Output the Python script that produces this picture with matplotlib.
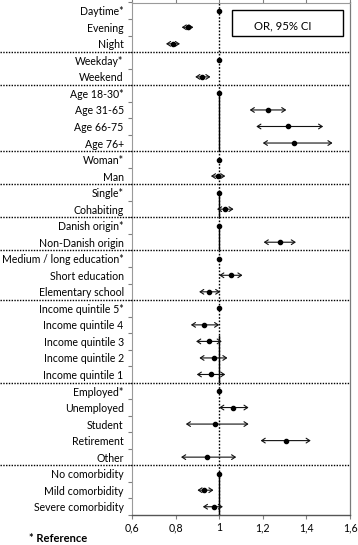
import numpy as np
import matplotlib
matplotlib.use("Agg")
import matplotlib.pyplot as plt
from matplotlib.transforms import blended_transform_factory
from matplotlib.patches import Rectangle

labels = ["Daytime*", "Evening", "Night",
          "Weekday*", "Weekend",
          "Age 18-30*", "Age 31-65", "Age 66-75", "Age 76+",
          "Woman*", "Man",
          "Single*", "Cohabiting",
          "Danish origin*", "Non-Danish origin",
          "Medium / long education*", "Short education", "Elementary school",
          "Income quintile 5*", "Income quintile 4", "Income quintile 3",
          "Income quintile 2", "Income quintile 1",
          "Employed*", "Unemployed", "Student", "Retirement", "Other",
          "No comorbidity", "Mild comorbidity", "Severe comorbidity"]
odds = [1.0, 0.855, 0.79,
        1.0, 0.923,
        1.0, 1.224, 1.314, 1.345,
        1.0, 0.994,
        1.0, 1.025,
        1.0, 1.277,
        1.0, 1.055, 0.954,
        1.0, 0.932, 0.954, 0.974, 0.963,
        1.0, 1.063, 0.98, 1.306, 0.943,
        1.0, 0.932, 0.974]
ci_low = [np.nan, 0.828, 0.756,
          np.nan, 0.89,
          np.nan, 1.14, 1.17, 1.20,
          np.nan, 0.962,
          np.nan, 0.99,
          np.nan, 1.204,
          np.nan, 1.0, 0.908,
          np.nan, 0.87, 0.894, 0.909, 0.897,
          np.nan, 1.0, 0.847, 1.19, 0.825,
          np.nan, 0.90, 0.925]
ci_high = [np.nan, 0.882, 0.82,
           np.nan, 0.96,
           np.nan, 1.308, 1.477, 1.52,
           np.nan, 1.028,
           np.nan, 1.066,
           np.nan, 1.352,
           np.nan, 1.107, 1.005,
           np.nan, 1.0, 1.012, 1.038, 1.028,
           np.nan, 1.135, 1.135, 1.42, 1.078,
           np.nan, 0.974, 1.017]
group_sizes = [3, 2, 4, 2, 2, 2, 3, 5, 5, 3]
x_ticks = [0.6, 0.8, 1.0, 1.2, 1.4, 1.6]
x_tick_labels = ["0,6", "0,8", "1", "1,2", "1,4", "1,6"]

W, H = 358, 545
fig = plt.figure(figsize=(W / 100, H / 100), dpi=100)
ax_left, ax_right = 132, 350
ax_top, ax_bot = 2.5, 515
ax = fig.add_axes([ax_left / W, 1 - ax_bot / H, (ax_right - ax_left) / W, (ax_bot - ax_top) / H])

font = "Lato"
n = len(labels)
ypos = np.arange(n)
ax.set_xlim(0.6, 1.6)
ax.set_ylim(n - 0.5, -0.5)

# vertical reference line at 1: dotted overall, solid segments in parts
ax.axvline(1.0, color="black", lw=1.0, ls=(0, (1.2, 1.2)), zorder=2)
solid_segments = [(5, 8.5), (11, 12.5), (13, 14.5), (19.6, 22.5), (28, 30.5)]
for a, b in solid_segments:
    ax.plot([1.0, 1.0], [a, b], color="black", lw=1.0, zorder=2, solid_capstyle="butt")

# group separators
trans = blended_transform_factory(ax.transAxes, ax.transData)
xl = -ax_left / (ax_right - ax_left)
b = -0.5
for g in group_sizes[:-1]:
    b += g
    ax.plot([xl, 1.0], [b, b], transform=trans, color="black", lw=1.0,
            ls=(0, (1, 1)), clip_on=False, zorder=3)

# CI arrows and points
for y, o, lo, hi in zip(ypos, odds, ci_low, ci_high):
    if not np.isnan(lo):
        ax.annotate("", xy=(hi, y), xytext=(lo, y),
                    arrowprops=dict(arrowstyle="<->,head_length=0.26,head_width=0.17",
                                    color="#111111", lw=0.8,
                                    shrinkA=0, shrinkB=0), zorder=4)
    ax.plot([o], [y], "o", color="black", ms=3.0, zorder=5)

# axes styling
ax.set_yticks(ypos)
ax.set_yticklabels(labels, fontsize=7.6, family=font, color="black")
ax.set_yticks(np.arange(-0.5, n, 1.0), minor=True)
ax.tick_params(axis="y", which="major", length=0, pad=6)
ax.tick_params(axis="y", which="minor", length=3, color="#808080", width=0.8)
ax.set_xticks(x_ticks)
ax.set_xticklabels(x_tick_labels, fontsize=7.6, family=font)
ax.tick_params(axis="x", which="major", length=3, color="#808080", width=0.8,
               top=True, direction="out", pad=2)
for s in ["left", "top"]:
    ax.spines[s].set_color("#9a9a9a")
    ax.spines[s].set_linewidth(0.8)
ax.spines["right"].set_color("#7a7a7a")
ax.spines["right"].set_linewidth(0.9)
ax.spines["bottom"].set_color("#555555")
ax.spines["bottom"].set_linewidth(1.0)

# legend-like box
ax.text(1.16, 0.9, "OR, 95% CI", fontsize=8.2, family=font, va="center", ha="left",
        zorder=6)
bx0, bx1 = 232, 343
by0, by1 = 10, 36
rect = Rectangle(((bx0) / W, 1 - by1 / H), (bx1 - bx0) / W, (by1 - by0) / H,
                 transform=fig.transFigure, fill=False, ec="black", lw=1.0)
fig.patches.append(rect)

fig.text(29 / W, 1 - 538 / H, "* Reference", fontsize=8, family=font,
         fontweight="bold", va="center", ha="left")

fig.savefig("out.png", dpi=100, facecolor="white")
